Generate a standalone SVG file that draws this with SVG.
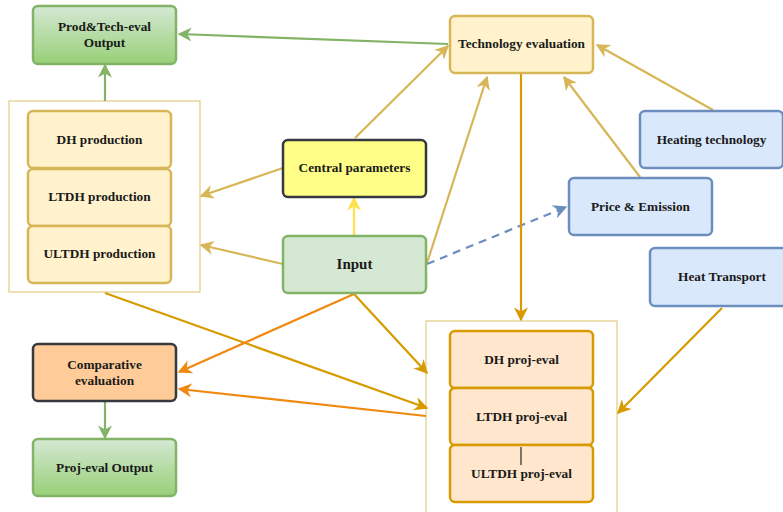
<svg xmlns="http://www.w3.org/2000/svg" width="783" height="512" viewBox="0 0 783 512">
<style>
.t{font-family:"Liberation Serif","Times New Roman",serif;font-weight:bold;font-size:13.3px;fill:#1a1a1a;text-anchor:middle;dominant-baseline:central}
.g{fill:url(#gg);stroke:#82b366;stroke-width:2.5}
.y{fill:#fff2cc;stroke:#d6b656;stroke-width:2.5}
.o{fill:#ffe6cc;stroke:#d79b00;stroke-width:2.5}
.b{fill:#dae8fc;stroke:#6c8ebf;stroke-width:2.5}
.c{fill:#ffffff;stroke:#e3cb85;stroke-width:1.2}
.e{fill:none;stroke-width:2.2}
</style>
<defs>
<linearGradient id="gg" x1="0" y1="0" x2="0" y2="1"><stop offset="0" stop-color="#d5e8d4"/><stop offset="1" stop-color="#97d077"/></linearGradient>
<marker id="mT" viewBox="0 0 10 10" refX="9" refY="5" markerWidth="14" markerHeight="14" orient="auto" markerUnits="userSpaceOnUse"><path d="M0,0 L10,5 L0,10 L3,5 z" fill="#d6b656"/></marker>
<marker id="mGr" viewBox="0 0 10 10" refX="9" refY="5" markerWidth="14" markerHeight="14" orient="auto" markerUnits="userSpaceOnUse"><path d="M0,0 L10,5 L0,10 L3,5 z" fill="#82b366"/></marker>
<marker id="mD" viewBox="0 0 10 10" refX="9" refY="5" markerWidth="14" markerHeight="14" orient="auto" markerUnits="userSpaceOnUse"><path d="M0,0 L10,5 L0,10 L3,5 z" fill="#d79b00"/></marker>
<marker id="mO" viewBox="0 0 10 10" refX="9" refY="5" markerWidth="14" markerHeight="14" orient="auto" markerUnits="userSpaceOnUse"><path d="M0,0 L10,5 L0,10 L3,5 z" fill="#f0890f"/></marker>
<marker id="mY" viewBox="0 0 10 10" refX="9" refY="5" markerWidth="14" markerHeight="14" orient="auto" markerUnits="userSpaceOnUse"><path d="M0,0 L10,5 L0,10 L3,5 z" fill="#ffe14d"/></marker>
<marker id="mB" viewBox="0 0 10 10" refX="9" refY="5" markerWidth="14" markerHeight="14" orient="auto" markerUnits="userSpaceOnUse"><path d="M0,0 L10,5 L0,10 L3,5 z" fill="#6c8ebf"/></marker>
</defs>

<g id="prod-container"><rect class="c" x="9" y="101" width="191" height="191"/></g>
<g id="proj-container"><rect class="c" x="426" y="321" width="191" height="195"/></g>

<g id="connectors">
<line class="e" stroke="#82b366" x1="448" y1="44" x2="179" y2="34" marker-end="url(#mGr)"/>
<line class="e" stroke="#82b366" x1="105" y1="101" x2="105" y2="65" marker-end="url(#mGr)"/>
<line class="e" stroke="#82b366" x1="105" y1="401" x2="105" y2="438" marker-end="url(#mGr)"/>
<line class="e" stroke="#d6b656" x1="355" y1="138" x2="448" y2="46" marker-end="url(#mT)"/>
<line class="e" stroke="#d6b656" x1="427" y1="263" x2="487" y2="77" marker-end="url(#mT)"/>
<line class="e" stroke="#d6b656" x1="713" y1="110" x2="597" y2="45" marker-end="url(#mT)"/>
<line class="e" stroke="#d6b656" x1="640" y1="177" x2="564" y2="77" marker-end="url(#mT)"/>
<line class="e" stroke="#d6b656" x1="283" y1="168" x2="201" y2="196" marker-end="url(#mT)"/>
<line class="e" stroke="#d6b656" x1="283" y1="264" x2="201" y2="245" marker-end="url(#mT)"/>
<line class="e" stroke="#ffe14d" x1="354" y1="236" x2="354" y2="198" marker-end="url(#mY)"/>
<line class="e" stroke="#6c8ebf" stroke-dasharray="8,6" x1="427" y1="264" x2="566" y2="207" marker-end="url(#mB)"/>
<line class="e" stroke="#d79b00" x1="521" y1="73" x2="521" y2="320" marker-end="url(#mD)"/>
<line class="e" stroke="#d79b00" x1="354" y1="294" x2="427" y2="373" marker-end="url(#mD)"/>
<line class="e" stroke="#d79b00" x1="105" y1="293" x2="427" y2="408" marker-end="url(#mD)"/>
<line class="e" stroke="#d79b00" x1="722" y1="308" x2="618" y2="413" marker-end="url(#mD)"/>
<line class="e" stroke="#f0890f" x1="354" y1="294" x2="179" y2="372" marker-end="url(#mO)"/>
<line class="e" stroke="#f0890f" x1="426" y1="416" x2="179" y2="389" marker-end="url(#mO)"/>
</g>

<g id="prod-tech-output"><rect class="g" x="33" y="6" width="143" height="58" rx="5"/><text class="t" x="104.5" y="26">Prod&amp;Tech-eval</text><text class="t" x="104.5" y="42">Output</text></g>
<g id="dh-production"><rect class="y" x="28" y="111" width="143" height="57" rx="5"/><text class="t" x="99.5" y="139">DH production</text></g>
<g id="ltdh-production"><rect class="y" x="28" y="169" width="143" height="57" rx="5"/><text class="t" x="99.5" y="196">LTDH production</text></g>
<g id="ultdh-production"><rect class="y" x="28" y="226" width="143" height="57" rx="5"/><text class="t" x="99.5" y="253">ULTDH production</text></g>
<g id="central-parameters"><rect fill="#ffff88" stroke="#36393d" stroke-width="2.5" x="283" y="140" width="143" height="57" rx="5"/><text class="t" x="354.5" y="167">Central parameters</text></g>
<g id="input"><rect fill="#d5e8d4" stroke="#82b366" stroke-width="2.5" x="283" y="236" width="143" height="57" rx="5"/><text class="t" x="354.5" y="264" style="font-size:15px">Input</text></g>
<g id="technology-evaluation"><rect class="y" x="450" y="16" width="143" height="57" rx="5"/><text class="t" x="521.5" y="43">Technology evaluation</text></g>
<g id="heating-technology"><rect class="b" x="640" y="111" width="143" height="57" rx="5"/><text class="t" x="711.5" y="139">Heating technology</text></g>
<g id="price-emission"><rect class="b" x="569" y="178" width="143" height="57" rx="5"/><text class="t" x="640.5" y="206">Price &amp; Emission</text></g>
<g id="heat-transport"><rect class="b" x="650" y="248" width="143" height="58" rx="5"/><text class="t" x="722" y="276">Heat Transport</text></g>
<g id="dh-proj-eval"><rect class="o" x="450" y="331" width="143" height="57" rx="5"/><text class="t" x="521.5" y="359">DH proj-eval</text></g>
<g id="ltdh-proj-eval"><rect class="o" x="450" y="388" width="143" height="57" rx="5"/><text class="t" x="521.5" y="416">LTDH proj-eval</text></g>
<g id="ultdh-proj-eval"><rect class="o" x="450" y="445" width="143" height="57" rx="5"/><line x1="521" y1="447" x2="521" y2="465" stroke="#000" stroke-width="1"/><text class="t" x="521.5" y="473">ULTDH proj-eval</text></g>
<g id="comparative-evaluation"><rect fill="#ffcc99" stroke="#36393d" stroke-width="2.5" x="33" y="344" width="143" height="57" rx="5"/><text class="t" x="104.5" y="364">Comparative</text><text class="t" x="104.5" y="380">evaluation</text></g>
<g id="proj-eval-output"><rect class="g" x="33" y="439" width="143" height="57" rx="5"/><text class="t" x="104.5" y="467">Proj-eval Output</text></g>
</svg>
